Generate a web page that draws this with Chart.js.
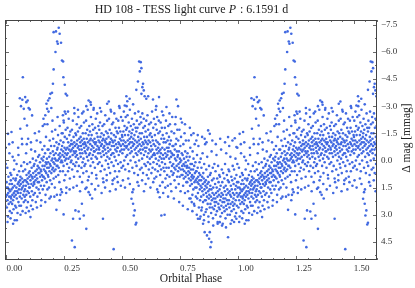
<!DOCTYPE html>
<html><head><meta charset="utf-8">
<script src="https://cdn.jsdelivr.net/npm/chart.js@4"></script>
<style>html,body{margin:0;padding:0;background:#fff}canvas{display:block}</style>
</head><body>
<canvas id="c" width="415" height="288"></canvas>
<script>
// Phase-folded light curve, [phase, Δmag (mmag)], phase in [0,1)
const bandPts = [
[0.001,1.2],[0.002,2.6],[0.003,1.9],[0.004,0.4],[0.005,2.2],[0.006,1.5],[0.007,3.1],[0.008,1.8],[0.009,0.9],[0.010,2.4],[0.011,1.6],[0.012,2.0],[0.013,-0.4],[0.014,1.3],[0.015,2.8],[0.016,1.7],[0.017,0.7],[0.018,2.3],[0.019,1.1],[0.0195,2.0],
[0.0205,2.1],[0.021,0.8],[0.022,1.6],[0.023,2.9],[0.024,1.3],[0.025,2.4],[0.026,1.9],[0.027,-0.2],[0.028,1.5],[0.029,2.2],[0.030,1.0],[0.031,2.7],[0.032,1.8],[0.033,0.5],[0.034,2.0],[0.035,1.4],[0.036,3.3],[0.037,1.7],[0.038,2.5],[0.039,1.1],
[0.0405,1.9],[0.041,1.0],[0.042,2.6],[0.043,1.5],[0.044,0.2],[0.045,2.1],[0.046,1.7],[0.047,0.8],[0.048,2.9],[0.049,1.3],[0.050,1.8],[0.051,-0.7],[0.052,2.3],[0.053,1.2],[0.054,1.6],[0.055,0.6],[0.056,2.5],[0.057,1.4],[0.058,2.0],[0.059,1.1],
[0.0605,0.9],[0.061,1.8],[0.062,1.3],[0.063,2.5],[0.064,0.3],[0.065,1.6],[0.066,2.1],[0.067,1.0],[0.068,-0.9],[0.069,1.5],[0.070,2.8],[0.071,1.2],[0.072,0.6],[0.073,1.9],[0.074,1.4],[0.075,2.3],[0.076,0.1],[0.077,1.7],[0.078,1.1],[0.079,2.0],
[0.0805,1.6],[0.081,0.5],[0.082,2.2],[0.083,1.1],[0.084,1.4],[0.085,-0.4],[0.086,1.9],[0.087,0.8],[0.088,2.6],[0.089,1.2],[0.090,0.2],[0.091,1.7],[0.092,1.0],[0.093,2.3],[0.094,-1.2],[0.095,1.3],[0.096,0.7],[0.097,1.8],[0.098,1.5],[0.099,0.9],
[0.1005,0.6],[0.101,1.5],[0.102,0.1],[0.103,2.0],[0.104,1.1],[0.105,0.8],[0.106,2.5],[0.107,-0.6],[0.108,1.3],[0.109,0.4],[0.110,1.7],[0.111,0.9],[0.112,2.2],[0.113,1.0],[0.114,-0.1],[0.115,1.4],[0.116,0.7],[0.117,1.9],[0.118,0.3],[0.119,1.2],
[0.1205,1.3],[0.121,0.2],[0.122,0.9],[0.123,1.8],[0.124,-0.5],[0.125,0.6],[0.126,1.1],[0.127,2.3],[0.128,0.0],[0.129,0.8],[0.130,1.5],[0.131,-1.1],[0.132,0.5],[0.133,1.0],[0.134,2.0],[0.135,0.3],[0.136,1.2],[0.137,-0.2],[0.138,0.7],[0.139,1.6],
[0.1405,0.4],[0.141,1.2],[0.142,-0.3],[0.143,0.7],[0.144,1.8],[0.145,0.1],[0.146,0.9],[0.147,-1.0],[0.148,0.5],[0.149,1.4],[0.150,0.6],[0.151,2.2],[0.152,-0.1],[0.153,0.8],[0.154,1.1],[0.155,-0.6],[0.156,0.3],[0.157,1.6],[0.158,0.0],[0.159,0.9],
[0.1605,0.9],[0.161,-0.2],[0.162,0.5],[0.163,1.4],[0.164,-0.8],[0.165,0.3],[0.166,1.0],[0.167,-0.4],[0.168,0.6],[0.169,1.9],[0.170,0.1],[0.171,-1.3],[0.172,0.7],[0.173,0.2],[0.174,1.2],[0.175,-0.1],[0.176,0.4],[0.177,1.6],[0.178,-0.6],[0.179,0.8],
[0.1805,0.1],[0.181,0.9],[0.182,-0.6],[0.183,0.4],[0.184,1.5],[0.185,-0.2],[0.186,0.6],[0.187,-1.1],[0.188,0.2],[0.189,1.1],[0.190,-0.4],[0.191,0.3],[0.192,2.0],[0.193,-0.8],[0.194,0.7],[0.195,0.0],[0.196,1.3],[0.197,-1.6],[0.198,0.5],[0.199,-0.1],
[0.2005,-0.5],[0.201,0.4],[0.202,-1.2],[0.203,0.1],[0.204,1.0],[0.205,-0.3],[0.206,0.6],[0.207,-0.8],[0.208,0.2],[0.209,1.5],[0.210,-0.1],[0.211,-1.7],[0.212,0.5],[0.213,-0.4],[0.214,0.9],[0.215,0.0],[0.216,-1.0],[0.217,0.3],[0.218,1.9],[0.219,-0.6],
[0.2205,0.3],[0.221,-0.7],[0.222,0.0],[0.223,-1.4],[0.224,0.8],[0.225,-0.3],[0.226,0.4],[0.227,-0.9],[0.228,-0.1],[0.229,1.2],[0.230,-1.9],[0.231,-0.4],[0.232,0.6],[0.233,-0.2],[0.234,-1.1],[0.235,0.1],[0.236,1.6],[0.237,-0.6],[0.238,0.0],[0.239,-1.5],
[0.2405,-0.8],[0.241,0.1],[0.242,-0.3],[0.243,-1.5],[0.244,0.6],[0.245,-0.5],[0.246,-1.0],[0.247,0.3],[0.248,-2.1],[0.249,-0.2],[0.250,1.1],[0.251,-0.7],[0.252,-1.3],[0.253,0.0],[0.254,-0.4],[0.255,0.8],[0.256,-1.7],[0.257,-0.6],[0.258,-0.1],[0.259,1.5],
[0.2605,-0.3],[0.261,-1.2],[0.262,0.2],[0.263,-0.7],[0.264,-1.8],[0.265,-0.4],[0.266,0.6],[0.267,-1.0],[0.268,-0.1],[0.269,-2.3],[0.270,-0.6],[0.271,0.4],[0.272,-1.4],[0.273,-0.8],[0.274,1.0],[0.275,-0.2],[0.276,-1.6],[0.277,-0.5],[0.278,0.1],[0.279,-0.9],
[0.2805,-1.1],[0.281,0.0],[0.282,-0.6],[0.283,-1.7],[0.284,0.5],[0.285,-0.9],[0.286,-0.3],[0.287,-2.2],[0.288,-0.7],[0.289,0.2],[0.290,-1.3],[0.291,-0.5],[0.292,0.9],[0.293,-1.0],[0.294,-2.6],[0.295,-0.4],[0.296,-0.8],[0.297,0.3],[0.298,-1.5],[0.299,-0.2],
[0.3005,-0.5],[0.301,-1.4],[0.302,0.1],[0.303,-0.9],[0.304,-2.0],[0.305,-0.3],[0.306,-1.1],[0.307,0.6],[0.308,-0.7],[0.309,-1.6],[0.310,-0.1],[0.311,-2.4],[0.312,-0.8],[0.313,0.3],[0.314,-1.2],[0.315,-0.6],[0.316,-1.8],[0.317,0.9],[0.318,-0.4],[0.319,-1.0],
[0.3205,-1.3],[0.321,-0.2],[0.322,-0.8],[0.323,-1.9],[0.324,0.4],[0.325,-0.6],[0.326,-1.1],[0.327,-2.6],[0.328,-0.4],[0.329,0.1],[0.330,-1.5],[0.331,-0.9],[0.332,0.7],[0.333,-0.1],[0.334,-1.2],[0.335,-2.1],[0.336,-0.7],[0.337,0.3],[0.338,-1.0],[0.339,-0.5],
[0.3405,-0.9],[0.341,0.2],[0.342,-1.5],[0.343,-0.4],[0.344,-2.2],[0.345,-0.8],[0.346,0.6],[0.347,-1.2],[0.348,-0.2],[0.349,-1.7],[0.350,-0.6],[0.351,-2.8],[0.352,-1.0],[0.353,0.0],[0.354,-0.7],[0.355,-1.4],[0.356,0.9],[0.357,-0.3],[0.358,-1.9],[0.359,-1.1],
[0.3605,-0.4],[0.361,-1.6],[0.362,-0.9],[0.363,0.3],[0.364,-1.2],[0.365,-2.4],[0.366,-0.6],[0.367,-0.1],[0.368,-1.4],[0.369,0.7],[0.370,-0.8],[0.371,-2.0],[0.372,-1.1],[0.373,-0.3],[0.374,0.1],[0.375,-1.7],[0.376,-0.7],[0.377,-2.9],[0.378,-0.5],[0.379,-1.0],
[0.3805,-1.2],[0.381,-0.5],[0.382,0.4],[0.383,-1.8],[0.384,-0.9],[0.385,-0.2],[0.386,-2.3],[0.387,-1.0],[0.388,0.8],[0.389,-0.6],[0.390,-1.5],[0.391,-0.1],[0.392,-2.6],[0.393,-0.8],[0.394,-1.3],[0.395,0.2],[0.396,-0.4],[0.397,-1.9],[0.398,-1.1],[0.399,-0.7],
[0.4005,-0.6],[0.401,-1.7],[0.402,0.1],[0.403,-1.0],[0.404,-2.1],[0.405,-0.4],[0.406,-1.3],[0.407,0.6],[0.408,-0.8],[0.409,-2.7],[0.410,-0.2],[0.411,-1.5],[0.412,-0.9],[0.413,0.3],[0.414,-1.1],[0.415,-1.9],[0.416,-0.5],[0.417,1.0],[0.418,-1.2],[0.419,-0.7],
[0.4205,-1.4],[0.421,-0.3],[0.422,-2.0],[0.423,-0.8],[0.424,0.5],[0.425,-1.1],[0.426,-0.6],[0.427,-2.5],[0.428,-1.0],[0.429,0.0],[0.430,-1.6],[0.431,-0.4],[0.432,-1.2],[0.433,0.8],[0.434,-0.9],[0.435,-2.2],[0.436,-0.2],[0.437,-1.5],[0.438,-0.7],[0.439,0.2],
[0.4405,-0.5],[0.441,-1.3],[0.442,0.4],[0.443,-2.3],[0.444,-0.9],[0.445,-0.1],[0.446,-1.7],[0.447,-1.0],[0.448,0.7],[0.449,-0.6],[0.450,-2.8],[0.451,-1.2],[0.452,-0.3],[0.453,-1.5],[0.454,0.1],[0.455,-0.8],[0.456,-2.0],[0.457,-1.1],[0.458,-0.4],[0.459,1.1],
[0.4605,-1.0],[0.461,-2.1],[0.462,-0.4],[0.463,0.3],[0.464,-1.4],[0.465,-0.8],[0.466,-2.6],[0.467,-0.2],[0.468,-1.1],[0.469,0.6],[0.470,-0.6],[0.471,-1.8],[0.472,-1.3],[0.473,0.0],[0.474,-0.9],[0.475,-2.3],[0.476,-0.5],[0.477,-1.6],[0.478,0.9],[0.479,-0.7],
[0.4805,-0.7],[0.481,-1.5],[0.482,0.2],[0.483,-2.2],[0.484,-1.0],[0.485,-0.3],[0.486,-1.8],[0.487,0.6],[0.488,-0.9],[0.489,-2.9],[0.490,-1.2],[0.491,-0.5],[0.492,-1.6],[0.493,0.1],[0.494,-0.8],[0.495,-2.4],[0.496,-1.1],[0.497,0.4],[0.498,-0.6],[0.499,-1.4],
[0.5005,-1.3],[0.501,-0.4],[0.502,-2.2],[0.503,-0.9],[0.504,0.3],[0.505,-1.6],[0.506,-1.1],[0.507,-2.7],[0.508,-0.6],[0.509,0.0],[0.510,-1.9],[0.511,-0.8],[0.512,-1.4],[0.513,0.5],[0.514,-1.0],[0.515,-2.4],[0.516,-0.2],[0.517,-1.7],[0.518,-0.7],[0.519,-3.0],
[0.5205,-0.8],[0.521,-1.8],[0.522,-0.3],[0.523,-2.5],[0.524,-1.1],[0.525,0.2],[0.526,-1.4],[0.527,-0.6],[0.528,-2.1],[0.529,-0.9],[0.530,0.6],[0.531,-1.6],[0.532,-1.2],[0.533,-2.8],[0.534,-0.4],[0.535,-1.0],[0.536,0.0],[0.537,-1.9],[0.538,-0.7],[0.539,-1.3],
[0.5405,-1.5],[0.541,-0.5],[0.542,-2.3],[0.543,-1.0],[0.544,0.4],[0.545,-1.7],[0.546,-0.8],[0.547,-3.1],[0.548,-1.2],[0.549,-0.2],[0.550,-2.0],[0.551,-0.9],[0.552,0.7],[0.553,-1.4],[0.554,-0.6],[0.555,-2.6],[0.556,-1.1],[0.557,0.1],[0.558,-1.8],[0.559,-0.4],
[0.5605,-0.7],[0.561,-1.6],[0.562,0.3],[0.563,-2.2],[0.564,-1.0],[0.565,-0.3],[0.566,-1.8],[0.567,-0.8],[0.568,0.8],[0.569,-1.3],[0.570,-2.7],[0.571,-0.5],[0.572,-1.1],[0.573,0.0],[0.574,-2.0],[0.575,-0.9],[0.576,-1.5],[0.577,0.5],[0.578,-0.6],[0.579,-2.4],
[0.5805,-1.2],[0.581,-0.4],[0.582,-2.1],[0.583,-0.8],[0.584,0.4],[0.585,-1.5],[0.586,-0.1],[0.587,-2.6],[0.588,-1.0],[0.589,-0.6],[0.590,0.7],[0.591,-1.8],[0.592,-0.9],[0.593,-2.3],[0.594,-0.3],[0.595,-1.3],[0.596,0.2],[0.597,-0.7],[0.598,-1.9],[0.599,-1.1],
[0.6005,-0.5],[0.601,-1.6],[0.602,0.3],[0.603,-1.0],[0.604,-2.2],[0.605,-0.7],[0.606,0.8],[0.607,-1.3],[0.608,-0.2],[0.609,-2.5],[0.610,-0.9],[0.611,0.1],[0.612,-1.7],[0.613,-0.4],[0.614,-1.1],[0.615,0.5],[0.616,-2.0],[0.617,-0.6],[0.618,-1.4],[0.619,-0.1],
[0.6205,-1.0],[0.621,0.2],[0.622,-1.5],[0.623,-0.5],[0.624,-2.1],[0.625,-0.8],[0.626,0.7],[0.627,-0.2],[0.628,-1.3],[0.629,-2.7],[0.630,-0.6],[0.631,0.4],[0.632,-1.1],[0.633,-0.3],[0.634,-1.8],[0.635,0.1],[0.636,-0.9],[0.637,-2.3],[0.638,-0.4],[0.639,1.0],
[0.6405,-0.3],[0.641,-1.4],[0.642,0.5],[0.643,-0.8],[0.644,-2.0],[0.645,-0.1],[0.646,-1.1],[0.647,0.9],[0.648,-0.6],[0.649,-1.7],[0.650,0.2],[0.651,-2.4],[0.652,-0.4],[0.653,-1.0],[0.654,0.6],[0.655,-0.7],[0.656,-1.5],[0.657,0.0],[0.658,-2.2],[0.659,-0.5],
[0.6605,-0.9],[0.661,0.3],[0.662,-0.2],[0.663,-1.6],[0.664,0.8],[0.665,-0.6],[0.666,-2.1],[0.667,-0.4],[0.668,0.5],[0.669,-1.2],[0.670,-0.1],[0.671,-1.8],[0.672,0.1],[0.673,-0.7],[0.674,1.2],[0.675,-1.4],[0.676,-0.3],[0.677,-2.5],[0.678,0.4],[0.679,-1.0],
[0.6805,-0.1],[0.681,-1.2],[0.682,0.6],[0.683,-0.6],[0.684,-1.8],[0.685,0.2],[0.686,-0.4],[0.687,1.0],[0.688,-1.0],[0.689,-2.2],[0.690,-0.2],[0.691,0.4],[0.692,-1.5],[0.693,-0.7],[0.694,0.8],[0.695,-0.3],[0.696,-1.1],[0.697,1.4],[0.698,-0.5],[0.699,-1.9],
[0.7005,-0.7],[0.701,0.4],[0.702,-1.3],[0.703,-0.1],[0.704,0.9],[0.705,-0.9],[0.706,-2.0],[0.707,0.1],[0.708,-0.5],[0.709,1.3],[0.710,-1.1],[0.711,-0.2],[0.712,0.6],[0.713,-1.6],[0.714,-0.4],[0.715,0.3],[0.716,-2.4],[0.717,-0.8],[0.718,0.8],[0.719,-0.3],
[0.7205,0.2],[0.721,-0.8],[0.722,0.7],[0.723,-0.3],[0.724,-1.5],[0.725,0.4],[0.726,1.1],[0.727,-0.6],[0.728,-0.1],[0.729,-2.0],[0.730,0.5],[0.731,-0.9],[0.732,1.5],[0.733,0.0],[0.734,-1.2],[0.735,0.3],[0.736,-0.5],[0.737,0.9],[0.738,-1.7],[0.739,-0.2],
[0.7405,-0.3],[0.741,0.6],[0.742,-1.1],[0.743,0.2],[0.744,1.3],[0.745,-0.5],[0.746,0.4],[0.747,-1.7],[0.748,0.9],[0.749,-0.1],[0.750,0.1],[0.751,-0.8],[0.752,1.7],[0.753,0.5],[0.754,-1.3],[0.755,0.0],[0.756,0.8],[0.757,-0.4],[0.758,-2.1],[0.759,0.3],
[0.7605,0.8],[0.761,-0.3],[0.762,0.5],[0.763,1.4],[0.764,-0.9],[0.765,0.2],[0.766,1.0],[0.767,-0.1],[0.768,0.6],[0.769,-1.5],[0.770,0.3],[0.771,1.8],[0.772,-0.5],[0.773,0.9],[0.774,0.1],[0.775,-1.1],[0.776,0.7],[0.777,1.2],[0.778,-0.2],[0.779,0.4],
[0.7805,0.3],[0.781,1.2],[0.782,-0.4],[0.783,0.8],[0.784,1.7],[0.785,0.0],[0.786,0.6],[0.787,-1.1],[0.788,1.0],[0.789,0.4],[0.790,2.1],[0.791,-0.2],[0.792,0.7],[0.793,1.4],[0.794,-0.7],[0.795,0.2],[0.796,1.1],[0.797,0.5],[0.798,-1.4],[0.799,0.9],
[0.8005,1.3],[0.801,0.2],[0.802,0.8],[0.803,1.9],[0.804,-0.5],[0.805,1.0],[0.806,0.5],[0.807,1.6],[0.808,-0.1],[0.809,0.9],[0.810,2.4],[0.811,0.3],[0.812,1.2],[0.813,-0.9],[0.814,0.7],[0.815,1.5],[0.816,0.1],[0.817,1.1],[0.818,2.0],[0.819,0.6],
[0.8205,0.6],[0.821,1.5],[0.822,1.0],[0.823,-0.3],[0.824,2.1],[0.825,1.2],[0.826,0.4],[0.827,1.8],[0.828,0.9],[0.829,-0.8],[0.830,1.3],[0.831,2.6],[0.832,0.7],[0.833,1.1],[0.834,0.1],[0.835,1.6],[0.836,2.2],[0.837,0.8],[0.838,1.4],[0.839,-0.1],
[0.8405,1.1],[0.841,2.0],[0.842,0.4],[0.843,1.5],[0.844,2.6],[0.845,0.9],[0.846,1.7],[0.847,-0.4],[0.848,1.3],[0.849,2.3],[0.850,0.7],[0.851,1.9],[0.852,1.0],[0.853,3.0],[0.854,0.2],[0.855,1.6],[0.856,1.2],[0.857,2.2],[0.858,-0.9],[0.859,1.4],
[0.8605,2.2],[0.861,1.1],[0.862,1.8],[0.863,0.5],[0.864,2.7],[0.865,1.5],[0.866,2.0],[0.867,-0.2],[0.868,1.3],[0.869,2.4],[0.870,0.9],[0.871,1.7],[0.872,3.1],[0.873,1.2],[0.874,2.1],[0.875,0.3],[0.876,1.9],[0.877,1.6],[0.878,2.6],[0.879,0.8],
[0.8805,1.4],[0.881,2.4],[0.882,0.7],[0.883,2.0],[0.884,2.9],[0.885,1.6],[0.886,-0.5],[0.887,2.2],[0.888,1.1],[0.889,2.6],[0.890,1.8],[0.891,0.4],[0.892,3.2],[0.893,1.5],[0.894,2.1],[0.895,1.0],[0.896,2.7],[0.897,1.9],[0.898,0.2],[0.899,2.3],
[0.9005,2.5],[0.901,1.3],[0.902,2.1],[0.903,0.6],[0.904,3.0],[0.905,1.8],[0.906,2.3],[0.907,-0.3],[0.908,1.5],[0.909,2.8],[0.910,1.0],[0.911,2.0],[0.912,3.4],[0.913,1.7],[0.914,0.3],[0.915,2.4],[0.916,1.2],[0.917,2.6],[0.918,1.9],[0.919,0.8],
[0.9205,1.6],[0.921,2.7],[0.922,0.9],[0.923,2.2],[0.924,3.1],[0.925,1.4],[0.926,2.0],[0.927,-0.6],[0.928,2.5],[0.929,1.8],[0.930,0.5],[0.931,2.9],[0.932,1.2],[0.933,2.3],[0.934,3.5],[0.935,1.9],[0.936,0.7],[0.937,2.1],[0.938,2.6],[0.939,1.5],
[0.9405,2.3],[0.941,1.0],[0.942,2.8],[0.943,1.7],[0.944,0.2],[0.945,2.1],[0.946,3.2],[0.947,1.4],[0.948,2.5],[0.949,-0.4],[0.950,1.9],[0.951,2.7],[0.952,0.8],[0.953,2.2],[0.954,1.6],[0.955,3.0],[0.956,1.1],[0.957,2.4],[0.958,1.8],[0.959,0.5],
[0.9605,1.2],[0.961,2.2],[0.962,0.6],[0.963,2.6],[0.964,1.7],[0.965,3.0],[0.966,1.9],[0.967,-0.2],[0.968,2.4],[0.969,1.4],[0.970,2.0],[0.971,0.9],[0.972,2.8],[0.973,1.6],[0.974,3.3],[0.975,1.1],[0.976,2.3],[0.977,0.3],[0.978,1.8],[0.979,2.5],
[0.9805,2.1],[0.981,1.3],[0.982,2.7],[0.983,0.5],[0.984,1.9],[0.985,2.4],[0.986,1.0],[0.987,3.1],[0.988,1.6],[0.989,-0.1],[0.990,2.2],[0.991,1.4],[0.992,2.9],[0.993,0.8],[0.994,1.8],[0.995,2.5],[0.996,1.2],[0.997,0.2],[0.998,2.0],[0.999,1.5]
];
// looser points around the main band
const haloPts = [
[0.005,3.4],[0.012,-0.9],[0.018,3.2],[0.027,-1.0],[0.034,0.0],[0.045,3.3],[0.052,-0.3],[0.061,3.0],[0.067,-1.2],[0.083,2.9],[0.088,-0.9],[0.097,2.8],[0.106,-1.0],[0.114,2.7],[0.123,-1.5],[0.132,2.6],[0.141,-1.6],[0.149,2.5],[0.157,-1.9],[0.168,2.3],
[0.177,-2.0],[0.186,2.1],[0.199,-2.2],[0.207,2.0],[0.221,-2.4],[0.233,1.9],[0.244,-2.5],[0.258,1.8],[0.266,-2.7],[0.273,1.6],[0.289,1.5],[0.293,-2.9],[0.304,1.4],[0.309,-2.8],[0.318,1.7],[0.327,1.2],[0.333,-2.7],[0.346,1.5],[0.352,1.1],[0.361,1.9],
[0.368,1.3],[0.376,-2.8],[0.383,1.6],[0.389,1.0],[0.397,1.4],[0.404,-2.9],[0.411,1.8],[0.419,1.2],[0.426,1.5],[0.433,1.1],[0.447,1.7],[0.452,-2.7],[0.458,1.3],[0.466,1.0],[0.472,1.6],[0.481,1.2],[0.487,-3.0],[0.494,1.4],[0.503,1.1],[0.512,1.5],
[0.526,1.0],[0.533,1.3],[0.548,1.6],[0.566,1.2],[0.571,1.4],[0.586,1.1],[0.594,1.7],[0.601,1.3],[0.613,1.0],[0.622,1.5],[0.634,1.2],[0.645,-2.8],[0.651,1.6],[0.663,1.4],[0.672,-2.7],[0.677,1.8],[0.686,1.5],[0.698,2.0],[0.704,-2.6],[0.712,1.7],
[0.723,2.1],[0.731,-2.4],[0.746,2.3],[0.753,-2.3],[0.762,2.5],[0.771,-2.0],[0.783,2.7],[0.792,-1.8],[0.803,2.8],[0.808,-1.5],[0.822,3.0],[0.826,-1.4],[0.838,3.1],[0.845,-1.3],[0.853,3.3],[0.864,-1.0],[0.873,3.4],[0.889,-1.1],[0.893,3.6],[0.904,-0.9],
[0.912,3.5],[0.923,-1.2],[0.931,3.6],[0.944,-1.0],[0.948,3.7],[0.962,-0.8],[0.968,3.5],[0.976,-1.1],[0.983,3.4],[0.997,-0.7]
];
// small bright group near phase 0.05-0.11
const flarePts = [
[0.058,-3.44],[0.063,-3.0],[0.069,-3.35],[0.075,-2.85],[0.081,-3.5],[0.086,-3.22],[0.092,-3.31],[0.096,-2.9],[0.101,-2.82],[0.071,-4.6],[0.078,-2.3],[0.060,-1.75],[0.089,-1.93],[0.111,-2.49]
];
// brightening spikes near phase 0.22 and 0.58, plus upper-edge points
const spikePts = [
[0.204,-7.09],[0.214,-7.13],[0.226,-7.33],[0.230,-7.0],[0.236,-6.5],[0.219,-6.57],[0.222,-6.45],[0.212,-5.99],[0.240,-5.52],[0.245,-5.47],[0.204,-5.03],[0.201,-4.24],[0.197,-3.74],[0.190,-3.68],[0.186,-3.44],[0.180,-3.31],[0.246,-4.6],[0.252,-4.18],[0.256,-3.68],[0.262,-3.59],[0.252,-2.7],[0.256,-2.58],[0.247,-2.21],[0.176,-2.85],[0.173,-3.13],[0.168,-2.5],[0.182,-2.7],[0.194,-2.9],[0.160,-2.3],[0.165,-2.0],
[0.573,-5.47],[0.580,-5.43],[0.583,-5.1],[0.576,-4.92],[0.568,-4.36],[0.590,-4.24],[0.587,-4.05],[0.593,-3.87],[0.561,-3.9],[0.583,-3.68],[0.597,-3.55],[0.604,-3.41],[0.612,-3.55],
[0.355,-3.31],[0.363,-3.22],[0.365,-3.08],[0.345,-3.0],[0.435,-3.13],[0.442,-3.26],[0.518,-3.55],[0.522,-3.27],[0.511,-3.04],[0.532,-3.41],[0.633,-3.37],[0.659,-3.5],[0.647,-3.0],[0.734,-3.37],[0.741,-3.0],[0.691,-2.95]
];
// faint outliers and stray bright points
const outlierPts = [
[0.283,4.42],[0.295,4.79],[0.288,3.22],[0.298,2.76],[0.312,2.82],[0.317,3.22],[0.334,3.04],[0.345,3.78],[0.326,2.39],[0.341,1.57],[0.355,1.75],[0.370,2.1],[0.417,3.22],[0.463,4.9],
[0.029,3.5],[0.104,3.13],[0.216,2.73],[0.247,2.98],[0.230,2.2],[0.240,1.75],
[0.540,2.12],[0.547,2.39],[0.554,2.76],[0.550,3.04],[0.561,3.44],[0.558,3.54],[0.544,1.75],[0.669,3.04],[0.683,3.0],[0.655,1.75],[0.662,2.03],
[0.827,3.22],[0.835,3.22],[0.849,3.5],[0.856,3.96],[0.866,4.14],[0.875,4.33],[0.881,4.79],[0.885,4.51],[0.878,3.96],[0.842,2.76],[0.860,2.85],[0.957,4.24],[0.921,3.41],[0.993,3.22],[0.800,2.3],[0.812,2.5],[0.795,2.1],
[0.957,-1.29],[0.986,-1.23],[0.007,-1.47],[0.022,-1.57],[0.993,-0.74],[0.871,-1.66],[0.878,-1.47],[0.856,-1.2],[0.820,-1.1]
];
const xTicks = [0, 0.25, 0.5, 0.75, 1.0, 1.25, 1.5];
const yTicks = [-7.5, -6.0, -4.5, -3.0, -1.5, 0.0, 1.5, 3.0, 4.5];
const xMinorStep = 0.05, yMinorStep = 0.75;
const PHASE_MIN = -0.006, PHASE_MAX = 1.6;
const MAG_MIN = -7.76, MAG_MAX = 5.5;

const folded = bandPts.concat(haloPts, flarePts, spikePts, outlierPts);
const points = [];
folded.forEach(([p, m]) => {
  points.push({x: p, y: m});
  if (p + 1 <= PHASE_MAX) points.push({x: p + 1, y: m});
  if (p - 1 >= PHASE_MIN) points.push({x: p - 1, y: m});
});

const SERIF = "'Liberation Serif', 'DejaVu Serif', serif";
const frameColor = '#444';

const decor = {
  id: 'decor',
  afterDraw(chart) {
    const ctx = chart.ctx, a = chart.chartArea;
    const xs = chart.scales.x, ys = chart.scales.y;
    ctx.save();
    ctx.strokeStyle = frameColor;
    ctx.lineWidth = 1;
    ctx.strokeRect(Math.round(a.left) + 0.5, Math.round(a.top) + 0.5, Math.round(a.right - a.left) - 1, Math.round(a.bottom - a.top) - 1);
    ctx.lineWidth = 0.8;
    ctx.beginPath();
    for (let v = 0; v <= PHASE_MAX + 1e-9; v += xMinorStep) {
      const x = Math.round(xs.getPixelForValue(v)) + 0.5;
      const major = xTicks.some(t => Math.abs(t - v) < 1e-6);
      const len = major ? 4 : 2;
      ctx.moveTo(x, a.bottom); ctx.lineTo(x, a.bottom - len);
      ctx.moveTo(x, a.top); ctx.lineTo(x, a.top + len);
    }
    for (let v = -7.5; v <= MAG_MAX + 1e-9; v += yMinorStep) {
      const y = Math.round(ys.getPixelForValue(v)) + 0.5;
      const major = yTicks.some(t => Math.abs(t - v) < 1e-6);
      const len = major ? 4 : 2;
      ctx.moveTo(a.left, y); ctx.lineTo(a.left + len, y);
      ctx.moveTo(a.right, y); ctx.lineTo(a.right - len, y);
    }
    ctx.stroke();

    ctx.fillStyle = '#222';
    ctx.textBaseline = 'alphabetic';
    const fs = 12;
    const p1 = 'HD 108 - TESS light curve ', p2 = 'P', p3 = ' : 6.1591 d';
    ctx.font = fs + 'px ' + SERIF;
    const w1 = ctx.measureText(p1).width, w3 = ctx.measureText(p3).width;
    ctx.font = 'italic ' + fs + 'px ' + SERIF;
    const w2 = ctx.measureText(p2).width;
    const cx = (a.left + a.right) / 2;
    const x0 = cx - (w1 + w2 + w3) / 2;
    const by = 13;
    ctx.textAlign = 'left';
    ctx.font = fs + 'px ' + SERIF; ctx.fillText(p1, x0, by);
    ctx.font = 'italic ' + fs + 'px ' + SERIF; ctx.fillText(p2, x0 + w1, by);
    ctx.font = fs + 'px ' + SERIF; ctx.fillText(p3, x0 + w1 + w2 + 1, by);

    ctx.font = '11.5px ' + SERIF;
    ctx.textAlign = 'center';
    ctx.fillText('Orbital Phase', cx, 282);

    ctx.save();
    ctx.translate(407, (a.top + a.bottom) / 2 - 2);
    ctx.rotate(-Math.PI / 2);
    ctx.textAlign = 'center';
    ctx.textBaseline = 'middle';
    ctx.fillText('\u0394 mag [mmag]', 0, 0);
    ctx.restore();
    ctx.restore();
  }
};

new Chart(document.getElementById('c'), {
  type: 'scatter',
  data: { datasets: [{
    data: points,
    pointRadius: 1.3,
    pointBackgroundColor: 'rgb(65,105,225)',
    pointBorderWidth: 0,
    pointHoverRadius: 0
  }]},
  options: {
    responsive: false,
    animation: false,
    events: [],
    layout: { padding: { left: 5, top: 20, right: 0, bottom: 0 } },
    plugins: { legend: { display: false }, tooltip: { enabled: false }, title: { display: false } },
    scales: {
      x: {
        type: 'linear', position: 'bottom', min: PHASE_MIN, max: PHASE_MAX,
        afterBuildTicks: s => { s.ticks = xTicks.map(v => ({ value: v })); },
        afterFit: s => { s.height = 28; },
        grid: { display: false, drawTicks: false },
        border: { display: false },
        ticks: {
          autoSkip: false, maxRotation: 0, align: 'start', padding: 3,
          color: '#333', font: { family: SERIF, size: 9 },
          callback: v => Number(v).toFixed(2)
        }
      },
      y: {
        type: 'linear', position: 'right', reverse: true, min: MAG_MIN, max: MAG_MAX,
        afterBuildTicks: s => { s.ticks = yTicks.map(v => ({ value: v })); },
        afterFit: s => { s.width = 38; },
        grid: { display: false, drawTicks: false },
        border: { display: false },
        ticks: {
          autoSkip: false, padding: 4,
          color: '#333', font: { family: SERIF, size: 9 },
          callback: v => (v < 0 ? '\u2212' : '') + Math.abs(v).toFixed(1)
        }
      }
    }
  },
  plugins: [decor]
});
</script>
</body></html>
